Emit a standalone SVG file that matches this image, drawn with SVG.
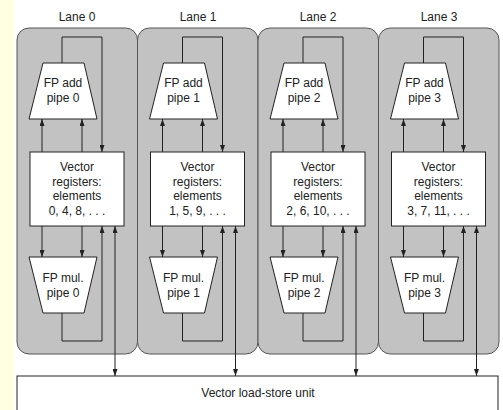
<svg xmlns="http://www.w3.org/2000/svg" width="503" height="410" viewBox="0 0 503 410">
<style>
text{font-family:"Liberation Sans",Arial,sans-serif;font-size:12px;fill:#222;text-anchor:middle}
.lane{fill:#c2c2c2;stroke:#555;stroke-width:1}
.box{fill:#fff;stroke:#222;stroke-width:1}
.c{fill:none;stroke:#222;stroke-width:1}
.a{marker-end:url(#ah)}
.b{marker-start:url(#ah);marker-end:url(#ah)}
</style>
<defs>
<marker id="ah" viewBox="0 0 7 5" refX="7" refY="2.5" markerWidth="7" markerHeight="5" markerUnits="userSpaceOnUse" orient="auto-start-reverse"><path d="M0,0 L7,2.5 L0,5 z" fill="#222"/></marker>
</defs>
<rect x="0" y="0" width="503" height="410" fill="#fff"/>
<rect x="0" y="0" width="14" height="410" fill="#ffffe2"/>
<g id="lane0"><rect class="lane" x="17" y="28" width="120.5" height="326" rx="12"/><text x="77" y="21">Lane 0</text></g>
<g id="lane1"><rect class="lane" x="137.5" y="28" width="120.5" height="326" rx="12"/><text x="198" y="21">Lane 1</text></g>
<g id="lane2"><rect class="lane" x="258" y="28" width="120.5" height="326" rx="12"/><text x="318" y="21">Lane 2</text></g>
<g id="lane3"><rect class="lane" x="378.5" y="28" width="120.5" height="326" rx="12"/><text x="439" y="21">Lane 3</text></g>
<g id="add0"><polygon class="box" points="43,63 84,63 97,119 29,119"/><text x="63" y="87">FP add</text><text x="63" y="102">pipe 0</text></g>
<g id="reg0"><rect class="box" x="30" y="152" width="94" height="74"/><text x="77" y="171">Vector</text><text x="77" y="186">registers:</text><text x="77" y="200">elements</text><text x="77" y="215">0, 4, 8, . . .</text></g>
<g id="mul0"><polygon class="box" points="29,257 97,257 84,313 43,313"/><text x="63" y="282">FP mul.</text><text x="63" y="297">pipe 0</text></g>
<g transform="translate(120.5,0)">
<g id="add1"><polygon class="box" points="43,63 84,63 97,119 29,119"/><text x="63" y="87">FP add</text><text x="63" y="102">pipe 1</text></g>
<g id="reg1"><rect class="box" x="30" y="152" width="94" height="74"/><text x="77" y="171">Vector</text><text x="77" y="186">registers:</text><text x="77" y="200">elements</text><text x="77" y="215">1, 5, 9, . . .</text></g>
<g id="mul1"><polygon class="box" points="29,257 97,257 84,313 43,313"/><text x="63" y="282">FP mul.</text><text x="63" y="297">pipe 1</text></g>
</g>
<g transform="translate(241,0)">
<g id="add2"><polygon class="box" points="43,63 84,63 97,119 29,119"/><text x="63" y="87">FP add</text><text x="63" y="102">pipe 2</text></g>
<g id="reg2"><rect class="box" x="30" y="152" width="94" height="74"/><text x="77" y="171">Vector</text><text x="77" y="186">registers:</text><text x="77" y="200">elements</text><text x="77" y="215">2, 6, 10, . . .</text></g>
<g id="mul2"><polygon class="box" points="29,257 97,257 84,313 43,313"/><text x="63" y="282">FP mul.</text><text x="63" y="297">pipe 2</text></g>
</g>
<g transform="translate(361.5,0)">
<g id="add3"><polygon class="box" points="43,63 84,63 97,119 29,119"/><text x="63" y="87">FP add</text><text x="63" y="102">pipe 3</text></g>
<g id="reg3"><rect class="box" x="30" y="152" width="94" height="74"/><text x="77" y="171">Vector</text><text x="77" y="186">registers:</text><text x="77" y="200">elements</text><text x="77" y="215">3, 7, 11, . . .</text></g>
<g id="mul3"><polygon class="box" points="29,257 97,257 84,313 43,313"/><text x="63" y="282">FP mul.</text><text x="63" y="297">pipe 3</text></g>
</g>
<g id="loadstore"><rect class="box" x="17" y="376" width="481" height="44"/><text x="258" y="397">Vector load-store unit</text></g>
<g id="connectors">
<g id="conn0">
<path class="c a" d="M62,63 V37 H102 V152"/>
<path class="c a" d="M42,152 V119"/><path class="c a" d="M82,152 V119"/>
<path class="c a" d="M42,226 V257"/><path class="c a" d="M82,226 V257"/>
<path class="c a" d="M62,313 V341 H102 V226"/>
<path class="c b" d="M115,226 V376"/>
</g>
<g id="conn1" transform="translate(120.5,0)">
<path class="c a" d="M62,63 V37 H102 V152"/>
<path class="c a" d="M42,152 V119"/><path class="c a" d="M82,152 V119"/>
<path class="c a" d="M42,226 V257"/><path class="c a" d="M82,226 V257"/>
<path class="c a" d="M62,313 V341 H102 V226"/>
<path class="c b" d="M115,226 V376"/>
</g>
<g id="conn2" transform="translate(241,0)">
<path class="c a" d="M62,63 V37 H102 V152"/>
<path class="c a" d="M42,152 V119"/><path class="c a" d="M82,152 V119"/>
<path class="c a" d="M42,226 V257"/><path class="c a" d="M82,226 V257"/>
<path class="c a" d="M62,313 V341 H102 V226"/>
<path class="c b" d="M115,226 V376"/>
</g>
<g id="conn3" transform="translate(361.5,0)">
<path class="c a" d="M62,63 V37 H102 V152"/>
<path class="c a" d="M42,152 V119"/><path class="c a" d="M82,152 V119"/>
<path class="c a" d="M42,226 V257"/><path class="c a" d="M82,226 V257"/>
<path class="c a" d="M62,313 V341 H102 V226"/>
<path class="c b" d="M115,226 V376"/>
</g>
</g>
</svg>
